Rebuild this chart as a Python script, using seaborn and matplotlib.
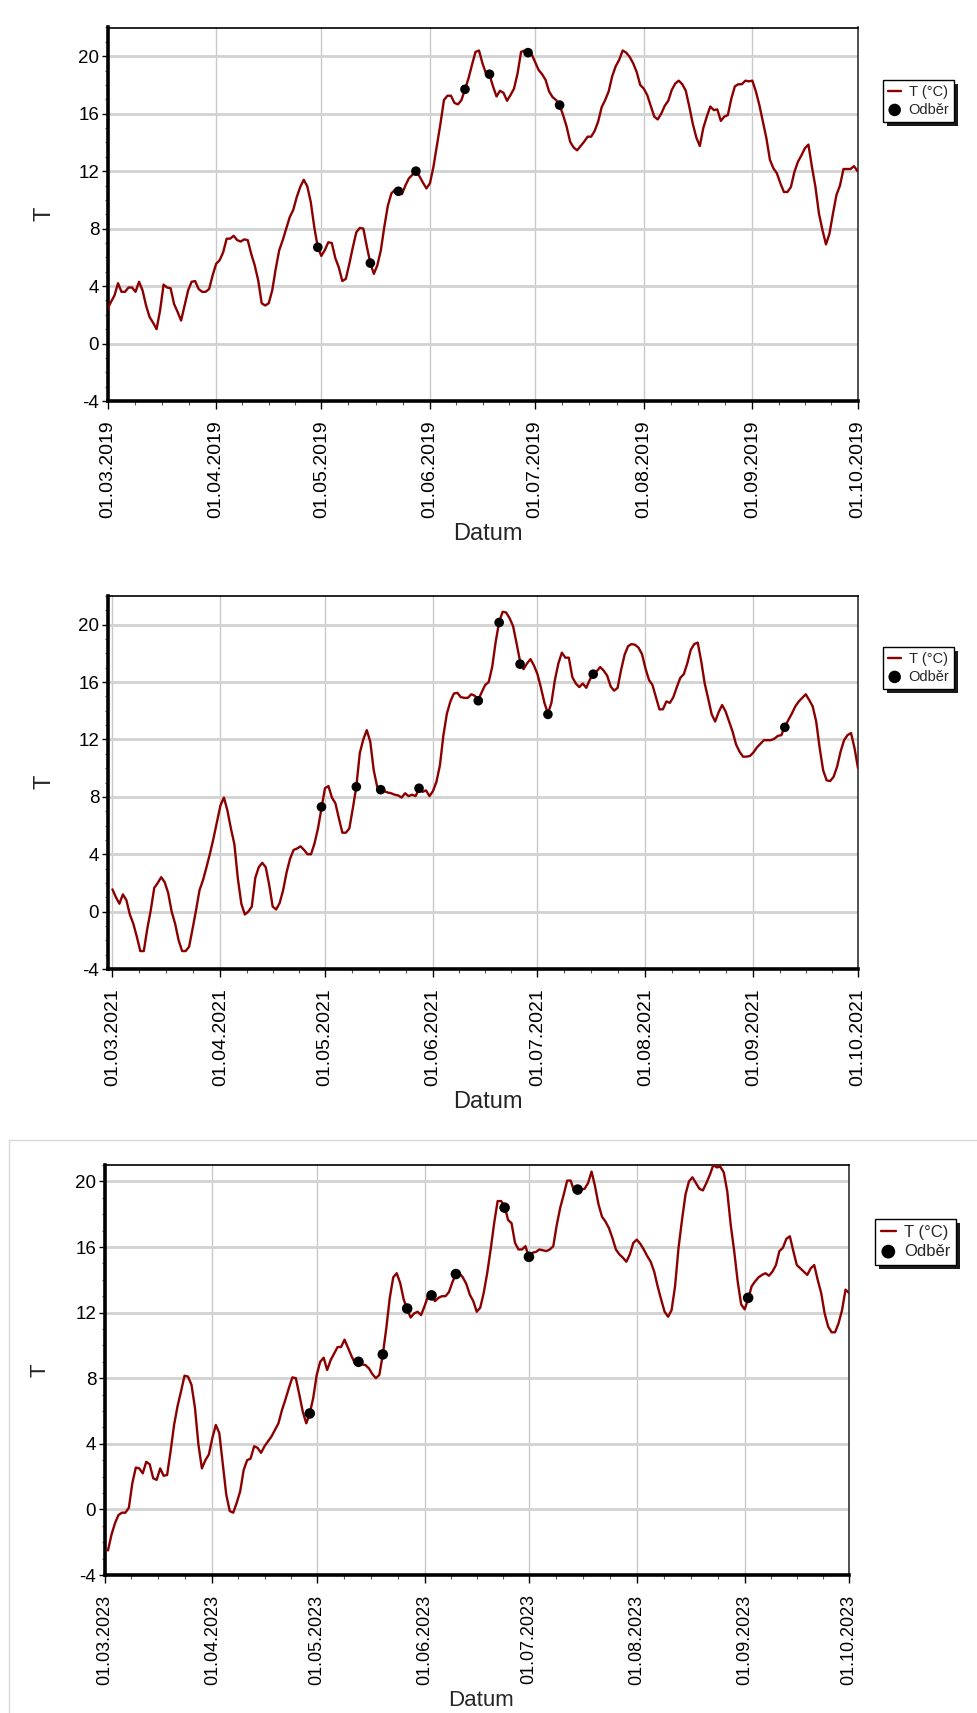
import matplotlib
matplotlib.use("Agg")
import numpy as np
import pandas as pd
import matplotlib.pyplot as plt
import matplotlib.dates as mdates
import seaborn as sns
from matplotlib.ticker import FixedLocator, MultipleLocator, FuncFormatter
from matplotlib.lines import Line2D
from matplotlib.patches import Rectangle

# ---------------- data ----------------
# daily water temperature, 1 March - 1 October
temp_2019 = [
    2.4, 2.9, 3.35, 4.2, 3.6, 3.6, 3.9, 3.9, 3.6, 4.3,
    3.7, 2.65, 1.85, 1.45, 1.0, 2.3, 4.1, 3.9, 3.85, 2.75,
    2.2, 1.6, 2.65, 3.7, 4.3, 4.35, 3.8, 3.6, 3.6, 3.8,
    4.75, 5.55, 5.8, 6.35, 7.3, 7.3, 7.5, 7.2, 7.1, 7.25,
    7.2, 6.25, 5.45, 4.4, 2.8, 2.65, 2.8, 3.7, 5.2, 6.5,
    7.2, 8.0, 8.8, 9.3, 10.2, 10.9, 11.4, 10.95, 9.85, 8.1,
    6.7, 6.1, 6.5, 7.05, 7.0, 5.95, 5.3, 4.35, 4.5, 5.55,
    6.7, 7.75, 8.05, 8.0, 6.75, 5.6, 4.85, 5.45, 6.5, 8.15,
    9.6, 10.45, 10.7, 10.6, 10.4, 11.0, 11.5, 11.75, 12.0, 11.65,
    11.2, 10.8, 11.15, 12.3, 13.8, 15.3, 16.95, 17.25, 17.25, 16.75,
    16.65, 16.95, 17.7, 18.45, 19.4, 20.3, 20.4, 19.5, 18.8, 18.7,
    17.9, 17.2, 17.6, 17.45, 16.9, 17.3, 17.75, 18.8, 20.3, 20.4,
    20.3, 20.15, 19.6, 19.05, 18.75, 18.35, 17.55, 17.15, 16.95, 16.6,
    15.9, 15.1, 14.05, 13.65, 13.45, 13.75, 14.05, 14.4, 14.4, 14.8,
    15.45, 16.45, 16.95, 17.55, 18.6, 19.3, 19.75, 20.4, 20.25, 19.95,
    19.5, 18.9, 18.0, 17.75, 17.3, 16.55, 15.8, 15.6, 16.0, 16.55,
    16.9, 17.65, 18.1, 18.3, 18.05, 17.6, 16.5, 15.3, 14.35, 13.75,
    15.0, 15.8, 16.5, 16.25, 16.3, 15.5, 15.8, 15.9, 17.05, 17.9,
    18.05, 18.05, 18.3, 18.25, 18.3, 17.55, 16.6, 15.45, 14.3, 12.8,
    12.2, 11.85, 11.15, 10.55, 10.55, 10.9, 11.95, 12.65, 13.1, 13.6,
    13.85, 12.3, 10.9, 9.05, 7.9, 6.9, 7.65, 9.05, 10.35, 11.0,
    12.15, 12.15, 12.15, 12.35, 12.0,
]
sample_dates_2019 = ["2019-04-30", "2019-05-15", "2019-05-23", "2019-05-28",
                     "2019-06-11", "2019-06-18", "2019-06-29", "2019-07-08"]
sample_temp_2019 = [6.7, 5.6, 10.6, 12.0, 17.7, 18.75, 20.25, 16.6]

temp_2021 = [
    1.55, 1.0, 0.55, 1.2, 0.8, -0.2, -0.85, -1.75, -2.75, -2.75,
    -1.2, 0.1, 1.65, 2.0, 2.4, 2.05, 1.3, 0.0, -0.85, -2.0,
    -2.75, -2.75, -2.45, -1.2, 0.1, 1.5, 2.2, 3.1, 4.05, 5.1,
    6.25, 7.4, 7.95, 7.05, 5.8, 4.7, 2.3, 0.55, -0.2, 0.0,
    0.35, 2.35, 3.1, 3.4, 3.1, 1.85, 0.35, 0.15, 0.6, 1.5,
    2.75, 3.7, 4.3, 4.4, 4.55, 4.3, 4.0, 4.0, 4.75, 5.8,
    7.2, 8.6, 8.75, 7.95, 7.55, 6.5, 5.5, 5.5, 5.8, 7.2,
    8.7, 11.05, 12.0, 12.65, 11.85, 9.85, 8.7, 8.45, 8.4, 8.3,
    8.25, 8.15, 8.1, 7.95, 8.25, 8.05, 8.15, 8.05, 8.55, 8.35,
    8.45, 8.05, 8.4, 9.05, 10.2, 12.3, 13.8, 14.65, 15.2, 15.25,
    14.95, 14.9, 14.9, 15.15, 15.05, 14.75, 15.3, 15.8, 16.0, 17.05,
    18.8, 20.2, 20.9, 20.85, 20.45, 19.9, 18.7, 17.45, 16.9, 17.3,
    17.6, 17.15, 16.55, 15.6, 14.55, 13.8, 14.55, 16.15, 17.3, 18.05,
    17.7, 17.7, 16.35, 15.9, 15.65, 15.9, 15.6, 16.15, 16.6, 16.75,
    17.05, 16.8, 16.45, 15.7, 15.4, 15.6, 16.85, 17.9, 18.5, 18.65,
    18.6, 18.4, 17.95, 16.95, 16.15, 15.8, 14.95, 14.1, 14.1, 14.65,
    14.55, 14.95, 15.65, 16.3, 16.55, 17.3, 18.25, 18.65, 18.75, 17.45,
    15.9, 14.85, 13.75, 13.25, 13.9, 14.4, 13.95, 13.25, 12.55, 11.65,
    11.15, 10.8, 10.8, 10.85, 11.1, 11.45, 11.7, 11.95, 11.95, 11.95,
    12.05, 12.25, 12.3, 12.9, 13.35, 13.8, 14.3, 14.65, 14.9, 15.15,
    14.75, 14.3, 13.25, 11.4, 9.85, 9.15, 9.1, 9.4, 10.1, 11.15,
    11.95, 12.3, 12.45, 11.4, 10.0,
]
sample_dates_2021 = ["2021-04-30", "2021-05-10", "2021-05-17", "2021-05-28",
                     "2021-06-14", "2021-06-20", "2021-06-26", "2021-07-04",
                     "2021-07-17", "2021-09-10"]
sample_temp_2021 = [7.3, 8.7, 8.5, 8.6, 14.7, 20.15, 17.25, 13.75, 16.55, 12.85]

# 2023 series starts on 2 March
temp_2023 = [
    -2.5, -1.55, -0.85, -0.35, -0.2, -0.2, 0.1, 1.6, 2.55, 2.5,
    2.2, 2.9, 2.75, 1.9, 1.8, 2.5, 2.05, 2.1, 3.55, 5.15,
    6.3, 7.2, 8.15, 8.1, 7.6, 6.2, 3.95, 2.5, 3.0, 3.35,
    4.35, 5.15, 4.65, 2.75, 0.9, -0.1, -0.2, 0.4, 1.1, 2.4,
    3.0, 3.1, 3.85, 3.75, 3.45, 3.85, 4.15, 4.45, 4.85, 5.25,
    6.05, 6.7, 7.4, 8.05, 8.0, 7.0, 5.95, 5.25, 5.85, 6.8,
    8.2, 9.0, 9.25, 8.5, 9.1, 9.5, 9.9, 9.9, 10.35, 9.85,
    9.35, 8.9, 9.0, 8.85, 8.8, 8.6, 8.25, 8.0, 8.2, 9.45,
    11.05, 12.9, 14.15, 14.4, 13.8, 12.8, 12.2, 11.7, 11.95, 12.05,
    11.85, 12.4, 13.0, 13.0, 12.7, 12.9, 13.0, 13.0, 13.25, 13.85,
    14.35, 14.4, 14.15, 13.75, 13.1, 12.7, 12.05, 12.3, 13.2, 14.4,
    15.85, 17.45, 18.8, 18.8, 18.5, 17.65, 17.45, 16.25, 15.85, 15.85,
    16.05, 15.35, 15.65, 15.7, 15.85, 15.8, 15.75, 15.85, 16.05, 17.35,
    18.4, 19.2, 20.05, 20.05, 19.4, 19.5, 19.5, 19.55, 19.9, 20.6,
    19.7, 18.6, 17.85, 17.55, 17.15, 16.55, 15.85, 15.55, 15.35, 15.1,
    15.55, 16.25, 16.45, 16.2, 15.85, 15.45, 15.1, 14.5, 13.6, 12.8,
    12.05, 11.75, 12.15, 13.6, 15.95, 17.65, 19.2, 20.0, 20.25, 19.9,
    19.55, 19.45, 19.9, 20.4, 21.0, 20.85, 20.9, 20.55, 19.4, 17.35,
    15.75, 13.9, 12.5, 12.2, 12.8, 13.6, 13.9, 14.15, 14.3, 14.4,
    14.25, 14.5, 14.9, 15.75, 15.95, 16.5, 16.65, 15.75, 14.9, 14.7,
    14.5, 14.3, 14.7, 14.9, 14.0, 13.2, 11.95, 11.15, 10.8, 10.8,
    11.35, 12.15, 13.4, 13.2,
]
sample_dates_2023 = ["2023-04-29", "2023-05-13", "2023-05-20", "2023-05-27",
                     "2023-06-03", "2023-06-10", "2023-06-24", "2023-07-01",
                     "2023-07-15", "2023-09-02"]
sample_temp_2023 = [5.85, 9.0, 9.45, 12.25, 13.05, 14.35, 18.4, 15.4, 19.5, 12.9]

y_ticks = [-4, 0, 4, 8, 12, 16, 20]
line_label = "T (°C)"
sample_label = "Odběr"
x_title = "Datum"
y_title = "T"

# ---------------- style ----------------
sns.set_style("white")
plt.rcParams["font.family"] = ["Liberation Sans", "DejaVu Sans"]
plt.rcParams["axes.unicode_minus"] = False

RED = "#8B0000"
W, H = 977, 1713
fig = plt.figure(figsize=(W / 100, H / 100), dpi=100)
fig.patch.set_facecolor("white")


def rect(l, t, r, b):
    return [l / W, 1 - b / H, (r - l) / W, (b - t) / H]


def fxy(x, y):
    return x / W, 1 - y / H


def panel(box, start, values, s_dates, s_vals, year, x_from, y_top,
          xt_size, yt_size, ms, leg_xy, leg_size, t_xy, d_xy, lab_size):
    ax = fig.add_axes(rect(*box))
    dates = pd.date_range(start, periods=len(values), freq="D")
    df = pd.DataFrame({"Datum": dates, "T": values})
    sdf = pd.DataFrame({"Datum": pd.to_datetime(s_dates), "T": s_vals})
    sns.lineplot(data=df, x="Datum", y="T", ax=ax, color=RED, linewidth=1.7,
                 label=line_label, zorder=3)
    sns.scatterplot(data=sdf, x="Datum", y="T", ax=ax, color="black", s=ms,
                    edgecolor="none", label=sample_label, zorder=4)
    handles, labels = ax.get_legend_handles_labels()
    if ax.get_legend() is not None:
        ax.get_legend().remove()
    ax.set_xlabel("")
    ax.set_ylabel("")

    months = pd.date_range(f"{year}-03-01", f"{year}-10-01", freq="MS")
    mnum = mdates.date2num(months)
    minors = []
    for a, b in zip(mnum[:-1], mnum[1:]):
        minors += [a + (b - a) * k / 4 for k in (1, 2, 3)]
    ax.xaxis.set_major_locator(FixedLocator(mnum))
    ax.xaxis.set_minor_locator(FixedLocator(minors))
    ax.set_xticklabels([m.strftime("%d.%m.%Y") for m in months],
                       rotation=90, fontsize=xt_size)
    ax.set_xlim(mdates.date2num(pd.Timestamp(x_from)), mnum[-1])

    ax.set_ylim(-4, y_top)
    ax.yaxis.set_major_locator(FixedLocator(y_ticks))
    ax.yaxis.set_minor_locator(MultipleLocator(1))
    ax.yaxis.set_major_formatter(FuncFormatter(lambda v, p: f"{int(round(v))}"))
    for t in ax.get_yticklabels():
        t.set_fontsize(yt_size)

    ax.set_axisbelow(True)
    ax.grid(False)
    ax.grid(axis="y", which="major", color="#d2d2d2", linewidth=2.0)
    ax.grid(axis="x", which="major", color="#c8c8c8", linewidth=1.0)

    for side in ("left", "bottom"):
        ax.spines[side].set_linewidth(2.6)
        ax.spines[side].set_color("black")
    ax.spines["top"].set_linewidth(1.2)
    ax.spines["top"].set_color("black")
    ax.spines["right"].set_linewidth(1.2)
    ax.spines["right"].set_color("#333333")

    ax.tick_params(axis="x", which="major", direction="out", length=6,
                   width=1, pad=8, colors="black", bottom=True)
    ax.tick_params(axis="x", which="minor", direction="out", length=3,
                   width=0.8, colors="#555555", bottom=True)
    ax.tick_params(axis="y", which="major", direction="out", length=4,
                   width=1, pad=2, colors="black", left=True)
    ax.tick_params(axis="y", which="minor", direction="out", length=2.5,
                   width=0.8, colors="#555555", left=True)

    fig.text(*fxy(*t_xy), y_title, rotation=90, ha="center", va="center",
             fontsize=lab_size + 1.5)
    fig.text(*fxy(*d_xy), x_title, ha="center", va="center",
             fontsize=lab_size + 1.5)

    leg = fig.legend(handles, labels, loc="upper left",
                     bbox_to_anchor=fxy(*leg_xy), borderaxespad=0,
                     frameon=True, fancybox=False, fontsize=leg_size,
                     handlelength=0.9, handletextpad=0.5, borderpad=0.35,
                     labelspacing=0.25, markerscale=1.3, framealpha=1.0,
                     facecolor="white")
    leg.get_frame().set_edgecolor("black")
    leg.get_frame().set_linewidth(1.0)
    leg.set_zorder(6)
    return ax, leg


legs = []
legs.append(panel((107.5, 27.5, 857.5, 401), "2019-03-01", temp_2019,
                  sample_dates_2019, sample_temp_2019, 2019, "2019-03-01", 22,
                  14, 13.5, 48, (883, 80), 10.5, (44.5, 214), (488, 534), 15.5)[1])
legs.append(panel((107.5, 596, 858, 969), "2021-03-01", temp_2021,
                  sample_dates_2021, sample_temp_2021, 2021, "2021-02-27 14:00", 22,
                  14, 13.5, 48, (883, 647), 10.5, (44.5, 782), (488, 1102), 15.5)[1])
legs.append(panel((104.5, 1165, 849, 1575), "2023-03-02", temp_2023,
                  sample_dates_2023, sample_temp_2023, 2023, "2023-03-01", 21,
                  13, 13.5, 58, (875, 1219), 12, (40, 1370), (481, 1700), 14.5)[1])

# thin frame around the lowest chart
fig.add_artist(Line2D([9 / W, 1], [1 - 1140 / H] * 2, transform=fig.transFigure,
                      color="#d9d9d9", linewidth=1))
fig.add_artist(Line2D([9 / W] * 2, [1 - 1140 / H, 0], transform=fig.transFigure,
                      color="#d9d9d9", linewidth=1))

# drop shadows behind the legend boxes
fig.canvas.draw()
inv = fig.transFigure.inverted()
for leg in legs:
    bb = leg.get_window_extent()
    (x0, y0), (x1, y1) = inv.transform([[bb.x0 + 4, bb.y0 - 4], [bb.x1 + 4, bb.y1 - 4]])
    fig.add_artist(Rectangle((x0, y0), x1 - x0, y1 - y0, transform=fig.transFigure,
                             facecolor="#1a1a1a", edgecolor="none", zorder=5))

fig.savefig("out.png", dpi=100, facecolor="white")
